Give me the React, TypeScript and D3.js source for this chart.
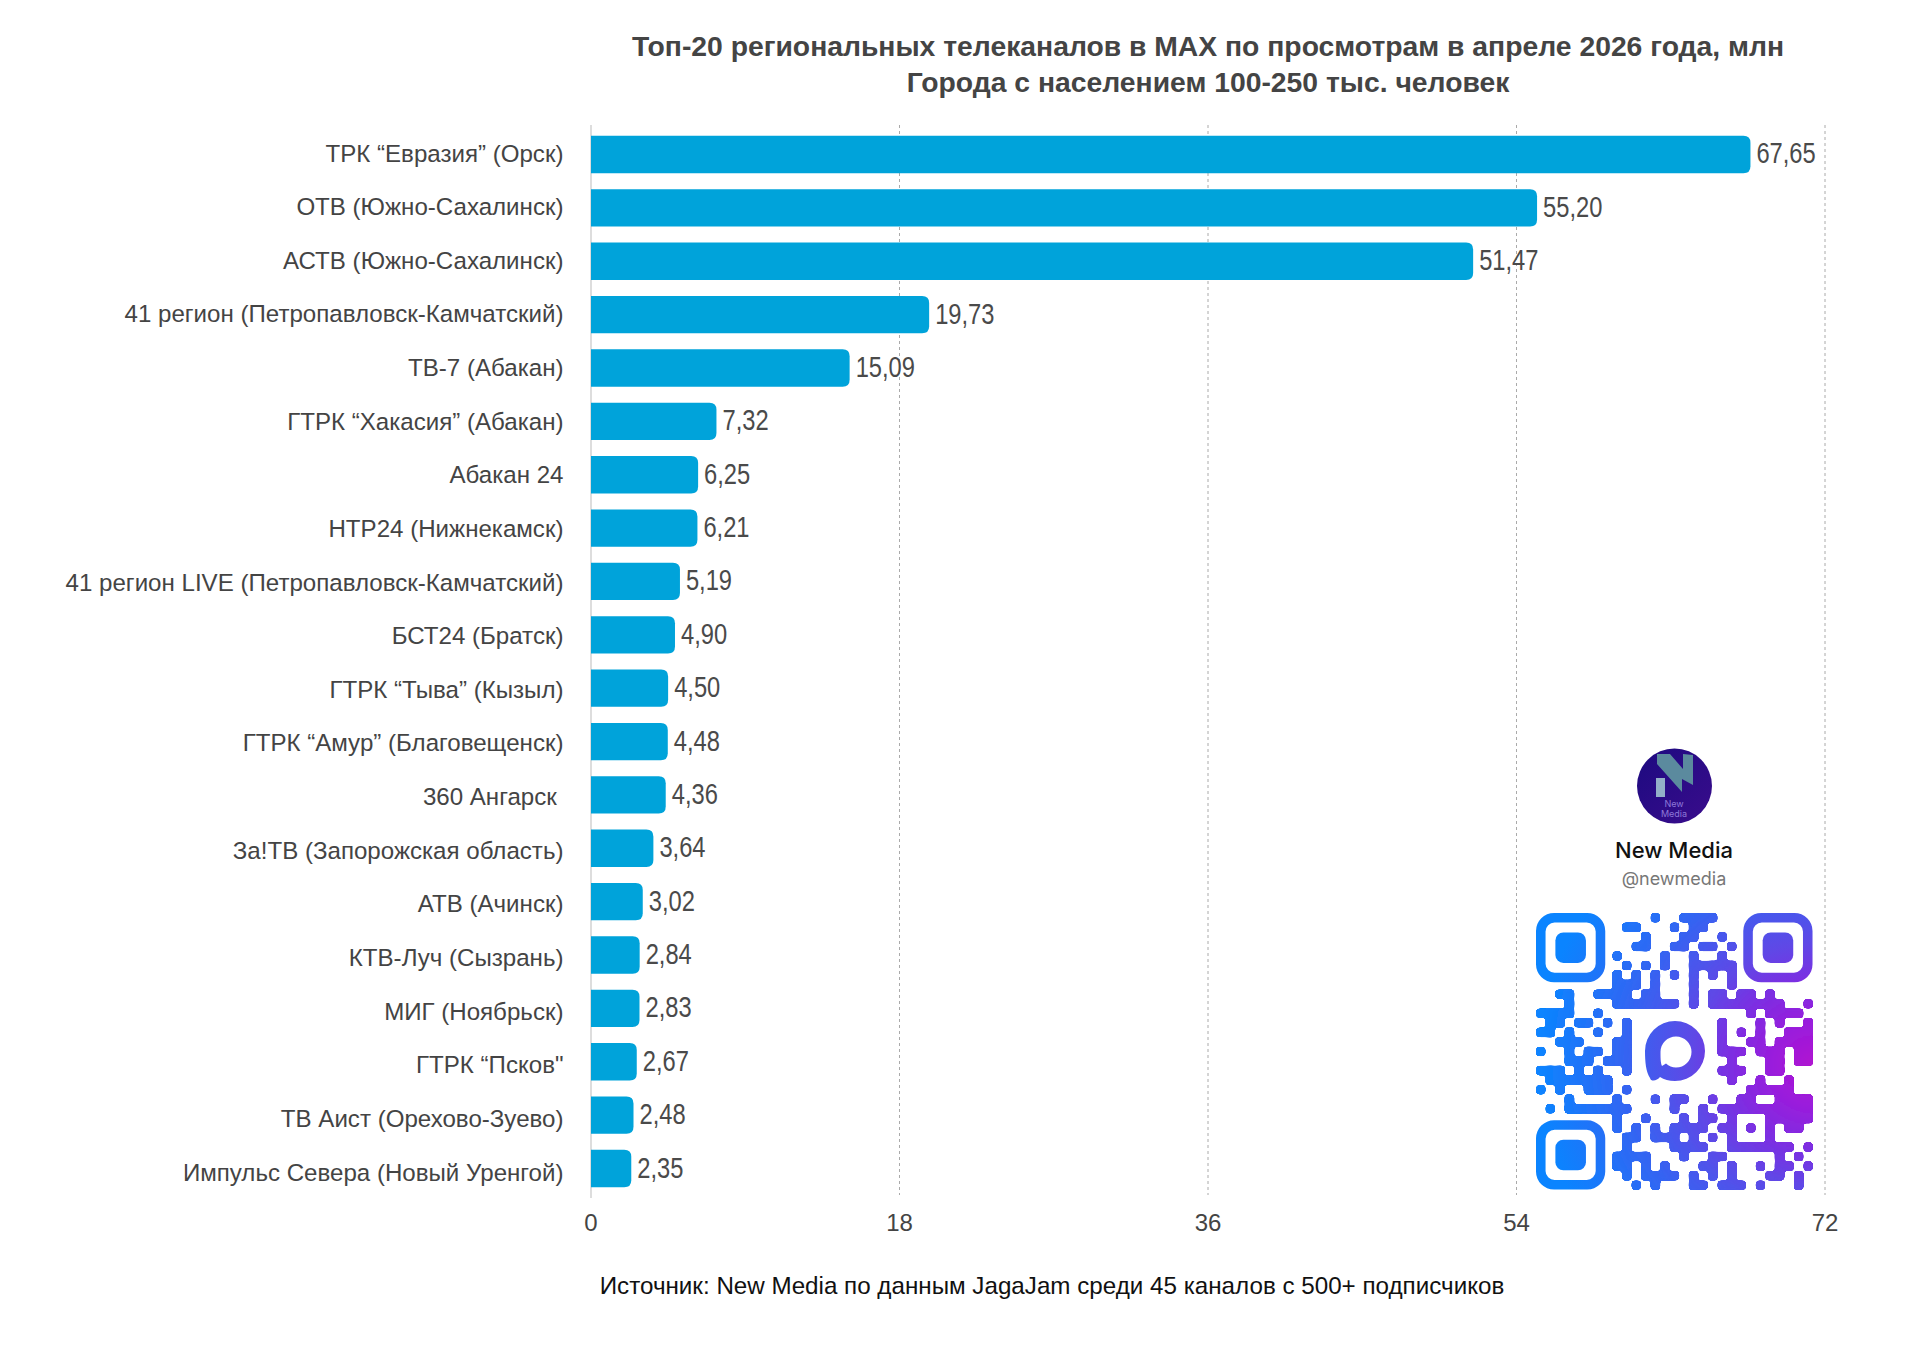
import React from 'react';
import * as d3 from 'd3';

const channels = [
  'ТРК “Евразия” (Орск)',
  'ОТВ (Южно-Сахалинск)',
  'АСТВ (Южно-Сахалинск)',
  '41 регион (Петропавловск-Камчатский)',
  'ТВ-7 (Абакан)',
  'ГТРК “Хакасия” (Абакан)',
  'Абакан 24',
  'НТР24 (Нижнекамск)',
  '41 регион LIVE (Петропавловск-Камчатский)',
  'БСТ24 (Братск)',
  'ГТРК “Тыва” (Кызыл)',
  'ГТРК “Амур” (Благовещенск)',
  '360 Ангарск ',
  'За!ТВ (Запорожская область)',
  'АТВ (Ачинск)',
  'КТВ-Луч (Сызрань)',
  'МИГ (Ноябрьск)',
  'ГТРК “Псков"',
  'ТВ Аист (Орехово-Зуево)',
  'Импульс Севера (Новый Уренгой)',
];
const views = [67.65, 55.2, 51.47, 19.73, 15.09, 7.32, 6.25, 6.21, 5.19, 4.9, 4.5, 4.48, 4.36, 3.64, 3.02, 2.84, 2.83, 2.67, 2.48, 2.35];
const ticks = [0, 18, 36, 54, 72];

// qr modules, finder corners are drawn apart
const qrRows = [
  '............#..####..........',
  '.........##...#.##...........',
  '...........#...##..#.........',
  '..........##..##.##.#........',
  '........#....#..#..#.........',
  '.........#.#.#..#####........',
  '........#.#.#.#.#.#.#........',
  '........###.#...#...#........',
  '..##..####.##...#.##.##.#....',
  '...#....#######.#.########..#',
  '####..#...............#.####.',
  '.##.##.#.#.........#...#.#..#',
  '##.#..#..#.........#.#.#..###',
  '..###...##.........#..##.####',
  '#..#.##.##.........###.###.##',
  '...###.###..........#...##.##',
  '###.#.#..#.........###..##...',
  '.#######............#..#..#..',
  '#.#..###.#............#####..',
  '...#....#...#.##..#..##..####',
  '.#.#######....#..#.##########',
  '........#..#...#.##.#...#####',
  '........#.#.#.####.##.#.#.##.',
  '.........##.###.#.#.#...#....',
  '.........#....####..#######.#',
  '........####...#..##.....#.#.',
  '........##.#.#...##.#..#.##.#',
  '.........#.####.#.#.#...##.#.',
  '..........#.#...##.###.#...#.',
];

const W = 1920;
const H = 1367;
const barColor = '#00A3DA';
const textColor = '#444444';
const sansFont = '"Liberation Sans", Arial, sans-serif';

const x = d3.scaleLinear().domain([0, 72]).range([591, 1825]);
const y = d3.scaleBand<string>().domain(channels).range([127.8, 1195.2]).paddingInner(0.3).paddingOuter(0.15);
const labelY = d3.scalePoint<string>().domain(channels).range([153.5, 1172.5]);

const qrX = d3.scaleLinear().domain([0, 29]).range([1536, 1813]);
const qrY = d3.scaleLinear().domain([0, 29]).range([913, 1190]);
const mod = qrX(1) - qrX(0);

function barPath(value: number, top: number, h: number) {
  const r = 7;
  const x0 = x(0);
  const x1 = x(value);
  return `M${x0},${top}H${x1 - r}Q${x1},${top} ${x1},${top + r}V${top + h - r}Q${x1},${top + h} ${x1 - r},${top + h}H${x0}Z`;
}

function qrRuns() {
  const runs: { c: number; r: number; w: number; h: number }[] = [];
  qrRows.forEach((row, r) => {
    let c = 0;
    while (c < 29) {
      if (row[c] !== '#') { c++; continue; }
      let e = c;
      while (row[e + 1] === '#') e++;
      runs.push({ c, r, w: e - c + 1, h: 1 });
      c = e + 1;
    }
  });
  for (let c = 0; c < 29; c++) {
    let r = 0;
    while (r < 29) {
      if (qrRows[r][c] !== '#') { r++; continue; }
      let e = r;
      while (e + 1 < 29 && qrRows[e + 1][c] === '#') e++;
      if (e > r) runs.push({ c, r, w: 1, h: e - r + 1 });
      r = e + 1;
    }
  }
  return runs;
}

const finders = [[0, 0], [21.7, 0], [0, 21.7]];

function roundRect(px: number, py: number, w: number, h: number, r: number) {
  return `M${px + r},${py}H${px + w - r}A${r},${r} 0 0 1 ${px + w},${py + r}V${py + h - r}A${r},${r} 0 0 1 ${px + w - r},${py + h}H${px + r}A${r},${r} 0 0 1 ${px},${py + h - r}V${py + r}A${r},${r} 0 0 1 ${px + r},${py}Z`;
}

export default function App() {
  return (
    <svg width={W} height={H} viewBox={`0 0 ${W} ${H}`} style={{ position: 'absolute', left: 0, top: 0, background: '#fff' }}>
      <defs>
        <radialGradient id="qrFill" gradientUnits="userSpaceOnUse" cx={1813} cy={1065} r={290}>
          <stop offset="0" stopColor="#B012D0" />
          <stop offset="0.14" stopColor="#9A1CDC" />
          <stop offset="0.3" stopColor="#7A30E2" />
          <stop offset="0.42" stopColor="#5F48E6" />
          <stop offset="0.65" stopColor="#3464F2" />
          <stop offset="0.95" stopColor="#0A84FF" />
        </radialGradient>
        <linearGradient id="avatarFill" x1="0" y1="0" x2="1" y2="1">
          <stop offset="0" stopColor="#1C0A80" />
          <stop offset="1" stopColor="#3A0C8C" />
        </linearGradient>
        {/* rounds the inner corners where qr modules meet */}
        <filter id="goo" filterUnits="userSpaceOnUse" x={1526} y={903} width={297} height={297}>
          <feGaussianBlur in="SourceGraphic" stdDeviation={1.8} />
          <feColorMatrix values="1 0 0 0 0  0 1 0 0 0  0 0 1 0 0  0 0 0 14 -6" />
        </filter>
      </defs>

      <g fontFamily={sansFont} fontWeight="700" fontSize={28.3} fill={textColor} textAnchor="middle">
        <text x={1208} y={56}>Топ-20 региональных телеканалов в MAX по просмотрам в апреле 2026 года, млн</text>
        <text x={1208} y={92}>Города с населением 100-250 тыс. человек</text>
      </g>

      {ticks.slice(1).map(t => (
        <line key={t} x1={x(t)} x2={x(t)} y1={125} y2={1195} stroke="#AAAAAA" strokeWidth={1} strokeDasharray="3 3" />
      ))}
      <line x1={x(0)} x2={x(0)} y1={125} y2={1198} stroke="#BBBBBB" strokeWidth={1} />

      {channels.map((name, i) => (
        <path key={name} d={barPath(views[i], y(name)!, y.bandwidth())} fill={barColor} />
      ))}

      <g fontFamily={sansFont} fontSize={24.1} fill={textColor} textAnchor="end">
        {channels.map(name => (
          <text key={name} x={563.5} y={labelY(name)! + 8} style={{ whiteSpace: 'pre' }}>{name}</text>
        ))}
      </g>

      <g fontFamily={sansFont} fontSize={30} fill="#4A4A4A">
        {channels.map((name, i) => (
          <text
            key={name}
            transform={`translate(${x(views[i]) + 6},${y(name)! + y.bandwidth() / 2 + 9}) scale(0.79,1)`}
          >
            {views[i].toFixed(2).replace('.', ',')}
          </text>
        ))}
      </g>

      <g fontFamily={sansFont} fontSize={24} fill={textColor} textAnchor="middle">
        {ticks.map(t => (
          <text key={t} x={x(t)} y={1231}>{t}</text>
        ))}
      </g>

      <text x={1052} y={1294} textAnchor="middle" fontFamily={sansFont} fontSize={24.2} fill="#111111">
        Источник: New Media по данным JagaJam среди 45 каналов с 500+ подписчиков
      </text>

      {/* channel card */}
      <circle cx={1674.5} cy={786} r={37.5} fill="url(#avatarFill)" />
      <path d="M1657,754 L1670,754 L1683,769 L1683,754 L1693,755 L1693,785 L1682,779 L1682,792 L1657,764Z" fill="#5B8A9E" />
      <rect x={1656} y={778} width={9} height={19} fill="#93AFC8" />
      <g fontFamily="Inter, sans-serif" textAnchor="middle">
        <text x={1674} y={807} fontSize={9} fill="#8E78D8">New</text>
        <text x={1674} y={817} fontSize={9} fill="#8E78D8">Media</text>
        <text x={1674} y={858} fontSize={22} fontWeight={500} fill="#111111">New Media</text>
        <text x={1674} y={885} fontSize={18} fill="#777777">@newmedia</text>
      </g>

      <g fill="url(#qrFill)">
        <g filter="url(#goo)">
          {qrRuns().map((m, i) => (
            <rect key={i} x={qrX(m.c)} y={qrY(m.r)} width={m.w * mod} height={m.h * mod} rx={mod * 0.25} />
          ))}
        </g>
        {finders.map(([c, r]) => (
          <g key={`${c}-${r}`}>
            <path
              fillRule="evenodd"
              d={`${roundRect(qrX(c), qrY(r), mod * 7.25, mod * 7.25, 18)}${roundRect(qrX(c) + mod, qrY(r) + mod, mod * 5.25, mod * 5.25, 9)}`}
            />
            <rect x={qrX(c) + mod * 2.03} y={qrY(r) + mod * 2.03} width={mod * 3.2} height={mod * 3.2} rx={8} />
          </g>
        ))}
        <path
          fillRule="evenodd"
          d="M1675,1021 A30,30 0 1 1 1675,1081 C1669,1081 1664,1079.5 1660,1077 C1657,1081 1651,1082 1650,1078 C1646,1072 1645,1062 1645,1051 A30,30 0 0 1 1675,1021Z M1676,1036.5 A15.5,15.5 0 1 1 1676,1067.5 C1672,1067.5 1669,1066 1666,1063.5 L1662,1066 C1660.5,1063 1660.5,1057 1660.5,1052 A15.5,15.5 0 0 1 1676,1036.5Z"
        />
      </g>
    </svg>
  );
}
